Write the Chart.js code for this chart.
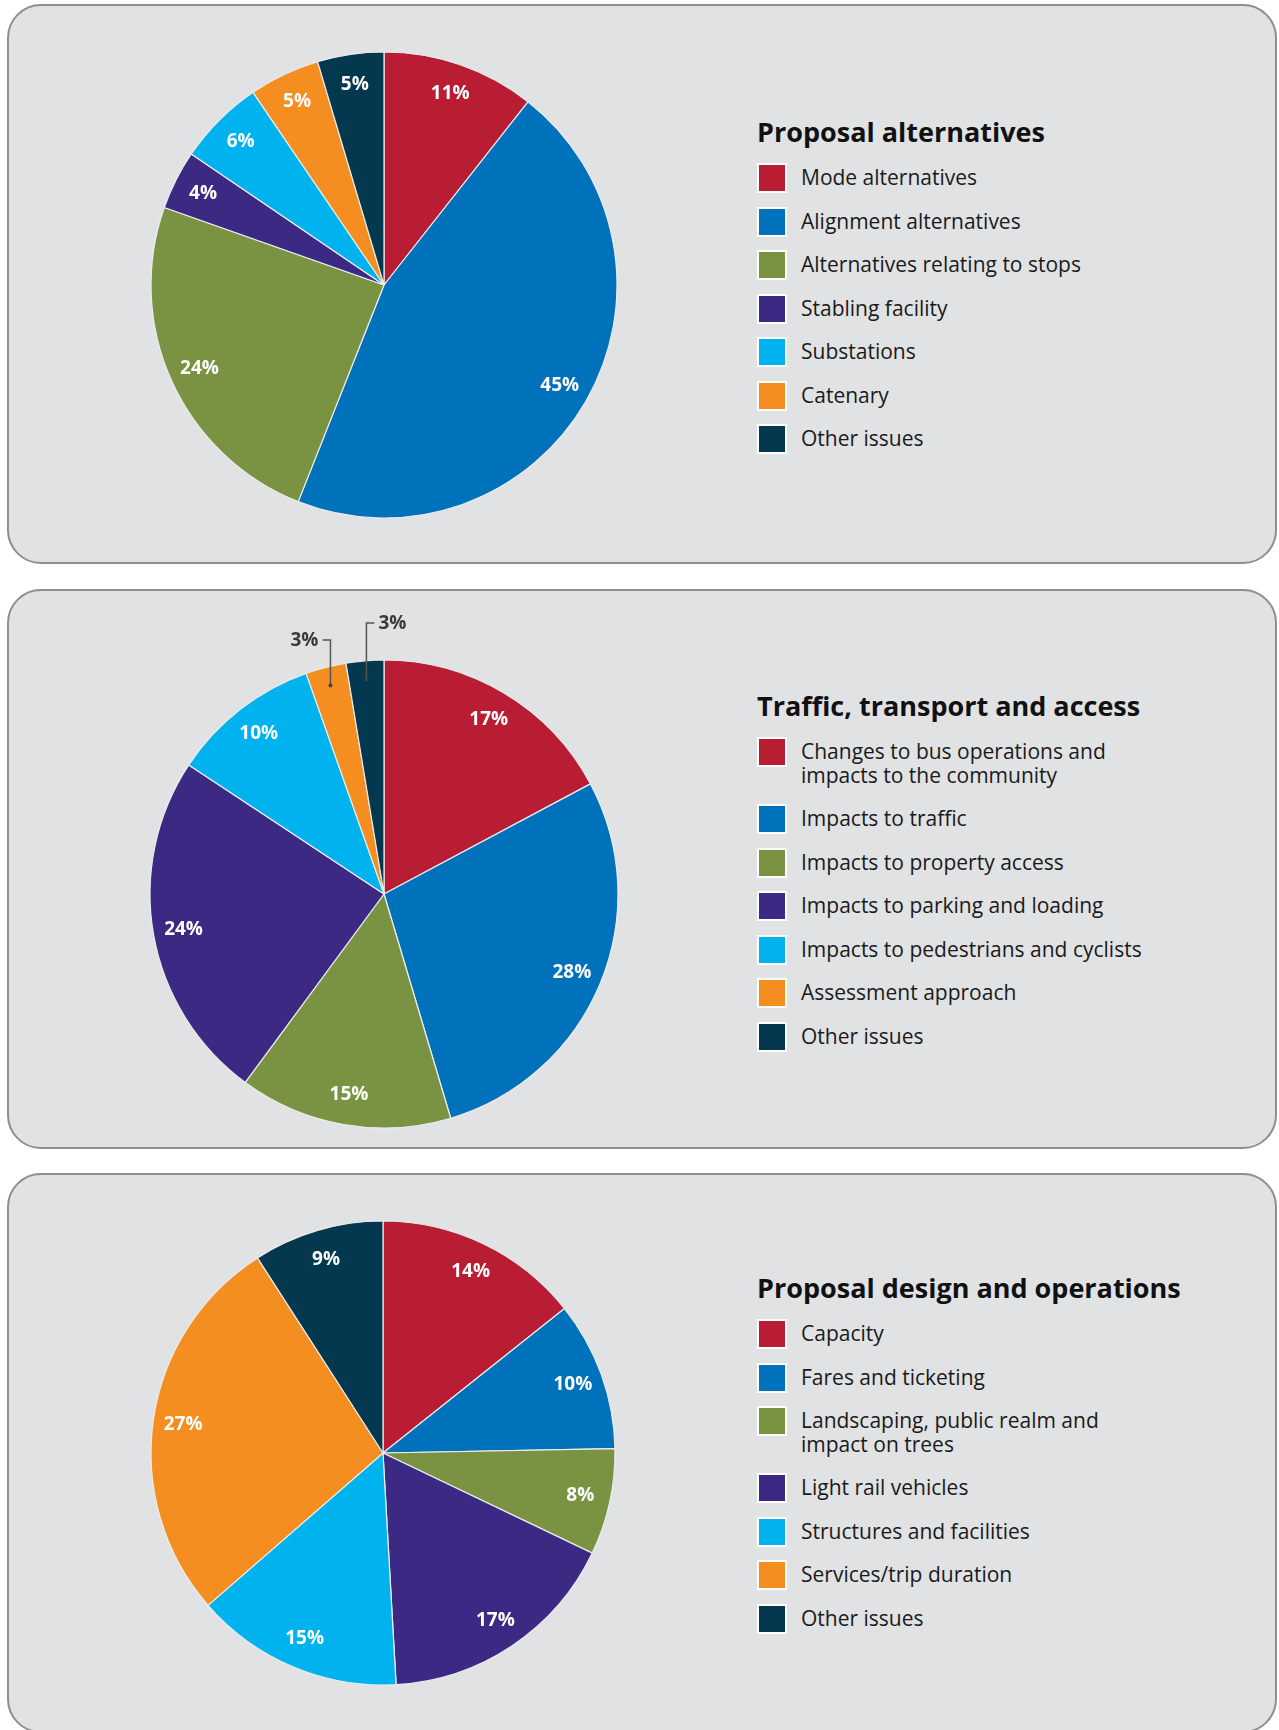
<!DOCTYPE html>
<html>
<head>
<meta charset="utf-8">
<script src="https://cdn.jsdelivr.net/npm/chart.js@4.4.1/dist/chart.umd.min.js"></script>
<style>
  html, body { margin: 0; padding: 0; background: #ffffff; }
  body { position: relative; width: 1279px; height: 1730px; overflow: hidden; font-family: "Open Sans", sans-serif; }
  .panel {
    position: absolute; left: 7px; width: 1266px; height: 556px;
    background: #e1e2e4; border: 2px solid #8d8e90; border-radius: 34px;
  }
  .pie { position: absolute; }
  .legend { position: absolute; left: 757px; color: #111; }
  .legend h2 { margin: 0; font-size: 27px; line-height: 32px; font-weight: 700; }
  .legend ul { list-style: none; margin: 18px 0 0 0; padding: 0; }
  .legend li { position: relative; padding-left: 44px; font-size: 21px; line-height: 23.5px; margin-bottom: 20px; color: #1a1a1a; }
  .legend .box { position: absolute; left: 0; top: -3px; width: 26px; height: 26px; border: 2px solid #ffffff; }
</style>
</head>
<body>

<div class="panel" style="top:4px"></div>
<div class="panel" style="top:589px"></div>
<div class="panel" style="top:1173px"></div>

<div class="pie" style="left:134px; top:35px; width:500px; height:500px"><canvas id="pieAlternatives"></canvas></div>
<div class="pie" style="left:134px; top:584px; width:500px; height:620px"><canvas id="pieTraffic"></canvas></div>
<div class="pie" style="left:133px; top:1203px; width:500px; height:500px"><canvas id="pieDesign"></canvas></div>

<div class="legend" id="legAlternatives" style="top:116px"></div>
<div class="legend" id="legTraffic" style="top:690px"></div>
<div class="legend" id="legDesign" style="top:1272px"></div>

<script>
// Proposal alternatives
const alternativesTitle = 'Proposal alternatives';
const alternativesLabels = ['Mode alternatives', 'Alignment alternatives', 'Alternatives relating to stops',
  'Stabling facility', 'Substations', 'Catenary', 'Other issues'];
const alternativesShares = [10.6, 45.4, 24.4, 4.1, 6.0, 4.9, 4.6];   // tamanho das fatias
const alternativesPercents = [11, 45, 24, 4, 6, 5, 5];              // rótulos impressos

// Traffic, transport and access
const trafficTitle = 'Traffic, transport and access';
const trafficLabels = [['Changes to bus operations and', 'impacts to the community'], 'Impacts to traffic',
  'Impacts to property access', 'Impacts to parking and loading', 'Impacts to pedestrians and cyclists',
  'Assessment approach', 'Other issues'];
const trafficShares = [17.2, 28.2, 14.7, 24.2, 10.3, 2.8, 2.6];
const trafficPercents = [17, 28, 15, 24, 10, 3, 3];

// Proposal design and operations
const designTitle = 'Proposal design and operations';
const designLabels = ['Capacity', 'Fares and ticketing', ['Landscaping, public realm and', 'impact on trees'],
  'Light rail vehicles', 'Structures and facilities', 'Services/trip duration', 'Other issues'];
const designShares = [14.3, 10.4, 7.4, 17.0, 14.5, 27.3, 9.1];
const designPercents = [14, 10, 8, 17, 15, 27, 9];

const colores = ['#b91d33', '#0071bb', '#7a9343', '#3c2983', '#00b3ef', '#f48e20', '#04384f'];

// etiquetas de porcentagem dentro das fatias (e com chamada para as pequenas)
const percentLabels = {
  id: 'percentLabels',
  afterDatasetsDraw(chart, args, opts) {
    const ctx = chart.ctx;
    const texts = opts.texts;
    const callouts = opts.callouts || {};
    chart.getDatasetMeta(0).data.forEach((arc, i) => {
      const p = arc.getProps(['x', 'y', 'startAngle', 'endAngle', 'outerRadius'], true);
      const mid = (p.startAngle + p.endAngle) / 2;
      const txt = texts[i] + '%';
      ctx.save();
      ctx.font = 'bold 19px "Open Sans"';
      ctx.textBaseline = 'middle';
      const c = callouts[i];
      if (c) {
        const dx = p.x + Math.cos(mid) * p.outerRadius * 0.92;
        const dy = p.y + Math.sin(mid) * p.outerRadius * 0.92;
        const topY = p.y - p.outerRadius - c.rise;
        const endX = dx + c.dir * 8;
        ctx.strokeStyle = '#555';
        ctx.lineWidth = 1.5;
        ctx.beginPath();
        ctx.moveTo(dx, dy);
        ctx.lineTo(dx, topY);
        ctx.lineTo(endX, topY);
        ctx.stroke();
        ctx.fillStyle = '#444';
        ctx.beginPath();
        ctx.arc(dx, dy, 2, 0, Math.PI * 2);
        ctx.fill();
        ctx.fillStyle = '#3a3a3a';
        ctx.textAlign = c.dir < 0 ? 'right' : 'left';
        ctx.fillText(txt, endX + c.dir * 4, topY + 1);
      } else {
        const r = p.outerRadius * 0.87;
        ctx.fillStyle = '#ffffff';
        ctx.textAlign = 'center';
        ctx.fillText(txt, p.x + Math.cos(mid) * r, p.y + Math.sin(mid) * r);
      }
      ctx.restore();
    });
  }
};

function buildLegend(el, title, chart) {
  const h = document.createElement('h2');
  h.textContent = title;
  el.appendChild(h);
  const ul = document.createElement('ul');
  chart.data.labels.forEach((lab, i) => {
    const li = document.createElement('li');
    const box = document.createElement('span');
    box.className = 'box';
    box.style.background = chart.data.datasets[0].backgroundColor[i];
    li.appendChild(box);
    const lines = Array.isArray(lab) ? lab : [lab];
    lines.forEach((t, k) => {
      if (k > 0) li.appendChild(document.createElement('br'));
      li.appendChild(document.createTextNode(t));
    });
    ul.appendChild(li);
  });
  el.appendChild(ul);
}

function makePie(canvasId, labels, shares, percents, radius, callouts) {
  const ctx = document.getElementById(canvasId).getContext('2d');
  return new Chart(ctx, {
    type: 'pie',
    data: {
      labels: labels,
      datasets: [{
        data: shares,
        backgroundColor: colores,
        borderColor: '#ececec',
        borderWidth: 1.2,
        radius: radius
      }]
    },
    options: {
      responsive: true,
      maintainAspectRatio: false,
      animation: false,
      layout: { padding: 0 },
      plugins: {
        legend: { display: false },
        tooltip: { enabled: false },
        percentLabels: { texts: percents, callouts: callouts }
      }
    },
    plugins: [percentLabels]
  });
}

const grafAlt = makePie('pieAlternatives', alternativesLabels, alternativesShares, alternativesPercents, 233, {});
const grafTraf = makePie('pieTraffic', trafficLabels, trafficShares, trafficPercents, 234, {
  5: { rise: 20, dir: -1 },
  6: { rise: 37, dir: 1 }
});
const grafDes = makePie('pieDesign', designLabels, designShares, designPercents, 232, {});

buildLegend(document.getElementById('legAlternatives'), alternativesTitle, grafAlt);
buildLegend(document.getElementById('legTraffic'), trafficTitle, grafTraf);
buildLegend(document.getElementById('legDesign'), designTitle, grafDes);
</script>
</body>
</html>
